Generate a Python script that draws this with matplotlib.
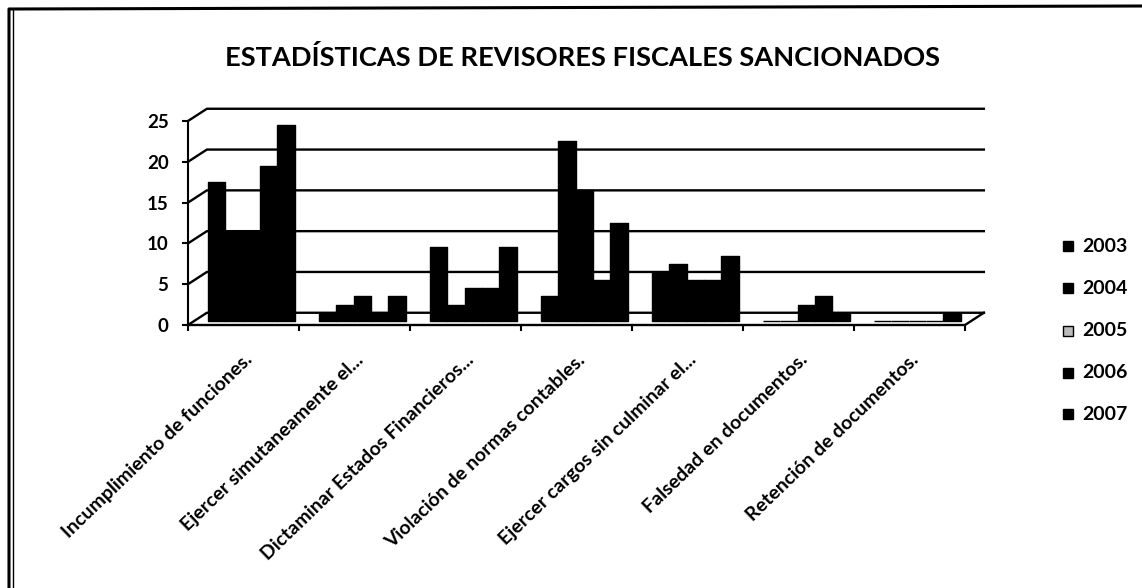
import matplotlib
matplotlib.use('Agg')
import matplotlib.pyplot as plt
import numpy as np

plt.rcParams['font.family'] = ['Lato', 'DejaVu Sans']

categorias = ['Incumplimiento de funciones.', 'Ejercer simutaneamente el...',
              'Dictaminar Estados Financieros...', 'Violación de normas contables.',
              'Ejercer cargos sin culminar el...', 'Falsedad en documentos.',
              'Retención de documentos.']
anios = ['2003', '2004', '2005', '2006', '2007']
v2003 = [17, 1, 9, 3, 6, 0, 0]
v2004 = [11, 2, 2, 22, 7, 0, 0]
v2005 = [11, 3, 4, 16, 5, 2, 0]
v2006 = [19, 1, 4, 5, 5, 3, 0]
v2007 = [24, 3, 9, 12, 8, 1, 1]
series = [v2003, v2004, v2005, v2006, v2007]
y_ticks = [0, 5, 10, 15, 20, 25]

W, H = 1142, 588
fig = plt.figure(figsize=(W / 100, H / 100), dpi=100)

# marco del escaneo
bg = fig.add_axes([0, 0, 1, 1])
bg.set_xlim(0, W)
bg.set_ylim(H, 0)
bg.axis('off')
bg.plot([9, 9, 1142], [H, 9, 6], color='black', lw=2.2)
bg.plot([13, 13], [10, H], color='black', lw=1)

# ejes: x=0..7 de 188 a 965 px, y=0..25 de 325 a 121 px
ax = fig.add_axes([188 / W, 1 - 325 / H, (965 - 188) / W, (325 - 121) / H])
ax.set_xlim(0, 7)
ax.set_ylim(0, 25)
ax.patch.set_alpha(0)
for s in ax.spines.values():
    s.set_visible(False)

dx, dy = 0.17, 1.5
for v in y_ticks:
    ax.plot([0, dx, 7 + dx], [v, v + dy, v + dy], color='black', lw=1.7,
            clip_on=False, zorder=1)
ax.plot([0, 7, 7 + dx], [0, 0, dy], color='black', lw=1.7, clip_on=False, zorder=1)
ax.plot([0, 0], [0, 25], color='black', lw=1.5, clip_on=False, zorder=1)

x = np.arange(len(categorias))
ancho = 0.156
for i, vals in enumerate(series):
    ax.bar(x + 0.18 + ancho * (i + 0.5), vals, ancho, bottom=0.5, color='black',
           edgecolor='black', lw=1.0, joinstyle='round', zorder=3)

ax.set_yticks(y_ticks)
ax.set_yticklabels(y_ticks, fontsize=13.5, fontweight='bold')
ax.set_xticks(np.arange(8))
ax.set_xticklabels([])
ax.tick_params(axis='both', length=4, width=1.5, color='black', pad=10)

for i, c in enumerate(categorias):
    ax.annotate(c, (i + 0.5, 0), xytext=(0, -26), textcoords='offset pixels',
                rotation=44, ha='right', va='top', rotation_mode='anchor',
                fontsize=14, fontweight='bold', color='black')

fig.text(582 / W, 1 - 57 / H, 'ESTADÍSTICAS DE REVISORES FISCALES SANCIONADOS',
         ha='center', va='center', fontsize=19.6, fontweight='bold')

# leyenda
leg_y = [246, 288, 331, 373, 414]
for a, y in zip(anios, leg_y):
    fc = '#bbbbbb' if a == '2005' else 'black'
    bg.plot([1068], [y], marker='s', ms=6.5, mfc=fc, mec='black', ls='none')
    bg.text(1082, y, a, ha='left', va='center', fontsize=14, fontweight='bold')

fig.savefig('out.png', dpi=100)
